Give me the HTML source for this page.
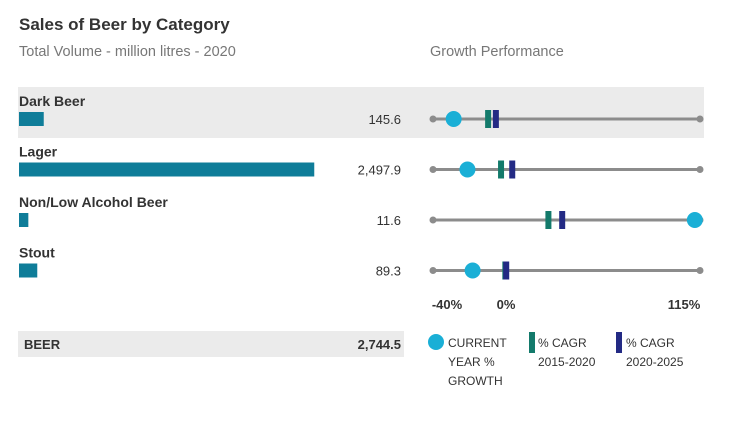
<!DOCTYPE html>
<html><head><meta charset="utf-8"><style>
body{margin:0;background:#fff;font-family:"Liberation Sans",sans-serif;}
svg text{font-family:"Liberation Sans",sans-serif;}
</style></head><body>
<svg id="c" width="746" height="416">
<text x="19" y="30" font-size="17" font-weight="bold" fill="#333">Sales of Beer by Category</text>
<text x="19" y="56" font-size="14.5" fill="#777">Total Volume - million litres - 2020</text>
<text x="430" y="56" font-size="14.5" fill="#777">Growth Performance</text>
<rect x="18" y="331" width="386" height="26" fill="#ebebeb"/>
<text x="24" y="349" font-size="13" font-weight="bold" fill="#333">BEER</text>
<text x="401" y="349" font-size="13" font-weight="bold" fill="#333" text-anchor="end">2,744.5</text>
<g id="rows"></g>
<text x="447" y="309" font-size="13" font-weight="bold" fill="#333" text-anchor="middle">-40%</text>
<text x="506" y="309" font-size="13" font-weight="bold" fill="#333" text-anchor="middle">0%</text>
<text x="684" y="309" font-size="13" font-weight="bold" fill="#333" text-anchor="middle">115%</text>
<g font-size="12" fill="#333">
<circle cx="436" cy="342" r="8" fill="#1aafd6"/>
<text x="448" y="347"><tspan x="448">CURRENT</tspan><tspan x="448" dy="19">YEAR %</tspan><tspan x="448" dy="19">GROWTH</tspan></text>
<rect x="529" y="332" width="6" height="21" fill="#137a6b"/>
<text x="538" y="347"><tspan x="538">% CAGR</tspan><tspan x="538" dy="19">2015-2020</tspan></text>
<rect x="616" y="332" width="6" height="21" fill="#232a84"/>
<text x="626" y="347"><tspan x="626">% CAGR</tspan><tspan x="626" dy="19">2020-2025</tspan></text>
</g>
</svg>
<script>
const categories=["Dark Beer","Lager","Non/Low Alcohol Beer","Stout"];
const volumes=[145.6,2497.9,11.6,89.3];
const volumeLabels=["145.6","2,497.9","11.6","89.3"];
const currentGrowth=[-28,-20,112,-17];
const cagr1520=[-8,-0.5,27,2];
const cagr2025=[-3.5,6,35,2.5];
const gMin=-40,gMax=115;
const gx=v=>433+(v-gMin)/(gMax-gMin)*267;
const bw=v=>8+v*0.115;
const NS="http://www.w3.org/2000/svg";
const g=document.getElementById('rows');
function mk(t,a){const e=document.createElementNS(NS,t);for(const k in a)e.setAttribute(k,a[k]);g.appendChild(e);return e;}
categories.forEach((c,i)=>{
 const top=87+i*50.5, cy=top+32;
 if(i===0){const bg=mk('rect',{x:18,y:top,width:686,height:51,fill:'#ebebeb'});
 
 }
 const l=mk('text',{x:19,y:top+19,'font-size':14,'font-weight':'bold',fill:'#333'});l.textContent=c;
 
 
 const b=mk('rect',{x:19,y:cy-7,width:bw(volumes[i]),height:14,fill:'#0f7d99'});
 
 
 const v=mk('text',{x:401,y:cy+5,'font-size':13,fill:'#333','text-anchor':'end'});v.textContent=volumeLabels[i];
 
 
 const ln=mk('line',{x1:gx(gMin),x2:gx(gMax),y1:cy,y2:cy,stroke:'#8c8c8c','stroke-width':3});
 
 
 [gMin,gMax].forEach(e=>{const d=mk('circle',{cx:gx(e),cy:cy,r:3.5,fill:'#8c8c8c'});
 
 });
 const m1=mk('rect',{x:gx(cagr1520[i])-3,y:cy-9,width:6,height:18,fill:'#137a6b'});
 
 
 const m2=mk('rect',{x:gx(cagr2025[i])-3,y:cy-9,width:6,height:18,fill:'#232a84'});
 
 
 const cc=mk('circle',{cx:gx(currentGrowth[i]),cy:cy,r:8,fill:'#1aafd6'});
 
 
});
</script>
</body></html>
